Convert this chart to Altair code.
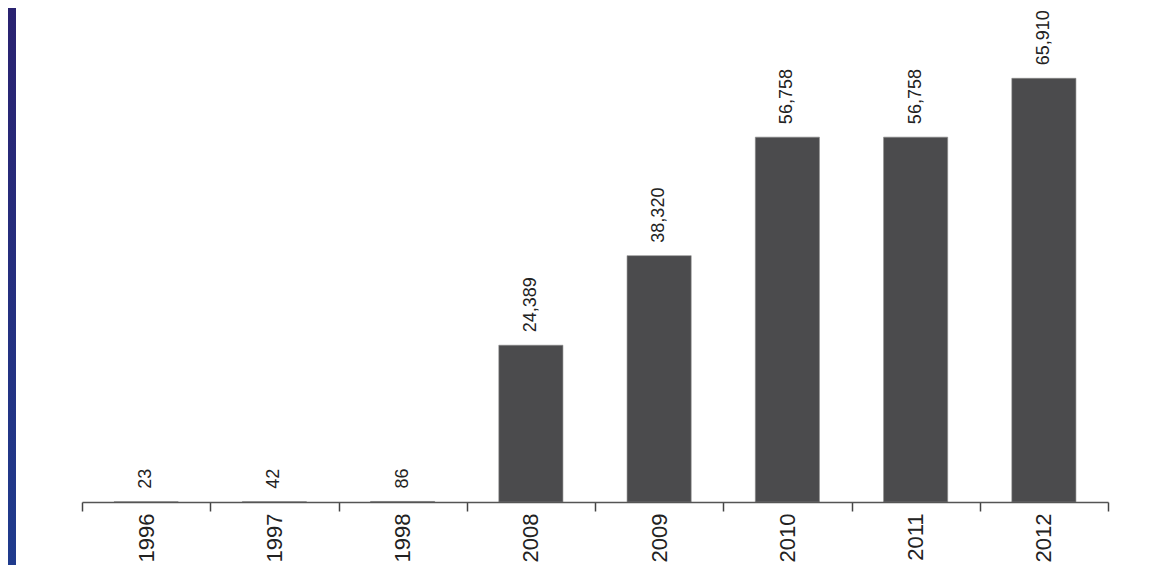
import altair as alt
import pandas as pd

years = ["1996", "1997", "1998", "2008", "2009", "2010", "2011", "2012"]
values = [23, 42, 86, 24389, 38320, 56758, 56758, 65910]

df = pd.DataFrame({"year": years, "value": values})
df["label"] = [f"{v:,}" for v in values]

FONT = "Liberation Sans, Arial, Helvetica, sans-serif"

bg = alt.Chart(alt.Data(values=[{}])).mark_rect(
    fill={"gradient": "linear", "x1": 0, "y1": 0, "x2": 0, "y2": 1,
          "stops": [{"offset": 0, "color": "#2a2270"}, {"offset": 1, "color": "#1f3c8e"}]}
).encode(x=alt.value(-80), x2=alt.value(1090), y=alt.value(-50), y2=alt.value(530))

panel = alt.Chart(alt.Data(values=[{}])).mark_rect(fill="white").encode(
    x=alt.value(-66), x2=alt.value(1080), y=alt.value(-46), y2=alt.value(530)
)

x_enc = alt.X(
    "year:N", sort=years, title=None,
    scale=alt.Scale(paddingInner=0, paddingOuter=0),
    axis=alt.Axis(
        labelAngle=270, labelFont=FONT, labelFontSize=22, labelColor="#222222",
        domainColor="#555555", domainWidth=1.5, tickColor="#444444", tickWidth=1.5,
        tickSize=9, tickBand="extent", labelPadding=2, zindex=2,
    ),
)
y_enc = alt.Y("value:Q", title=None, scale=alt.Scale(domain=[0, 70000], nice=False), axis=None)

bars = alt.Chart(df).mark_bar(
    color="#4b4b4d", stroke="#8a8a8a", strokeWidth=0.6, width={"band": 0.5}
).encode(x=x_enc, y=y_enc)

labels = alt.Chart(df).mark_text(
    angle=270, align="left", baseline="middle", dx=13, font=FONT, fontSize=18, color="#222222"
).encode(x=alt.X("year:N", sort=years), y="value:Q", text="label:N")

chart = alt.layer(bg, panel, bars, labels).properties(
    width=1026, height=450,
    autosize=alt.AutoSizeParams(type="none"),
    padding={"left": 74, "top": 44, "right": 50, "bottom": 63},
    background="#262a7c",
).configure_view(stroke=None)

chart.save("out.html", embed_options={"renderer": "svg", "actions": False})
